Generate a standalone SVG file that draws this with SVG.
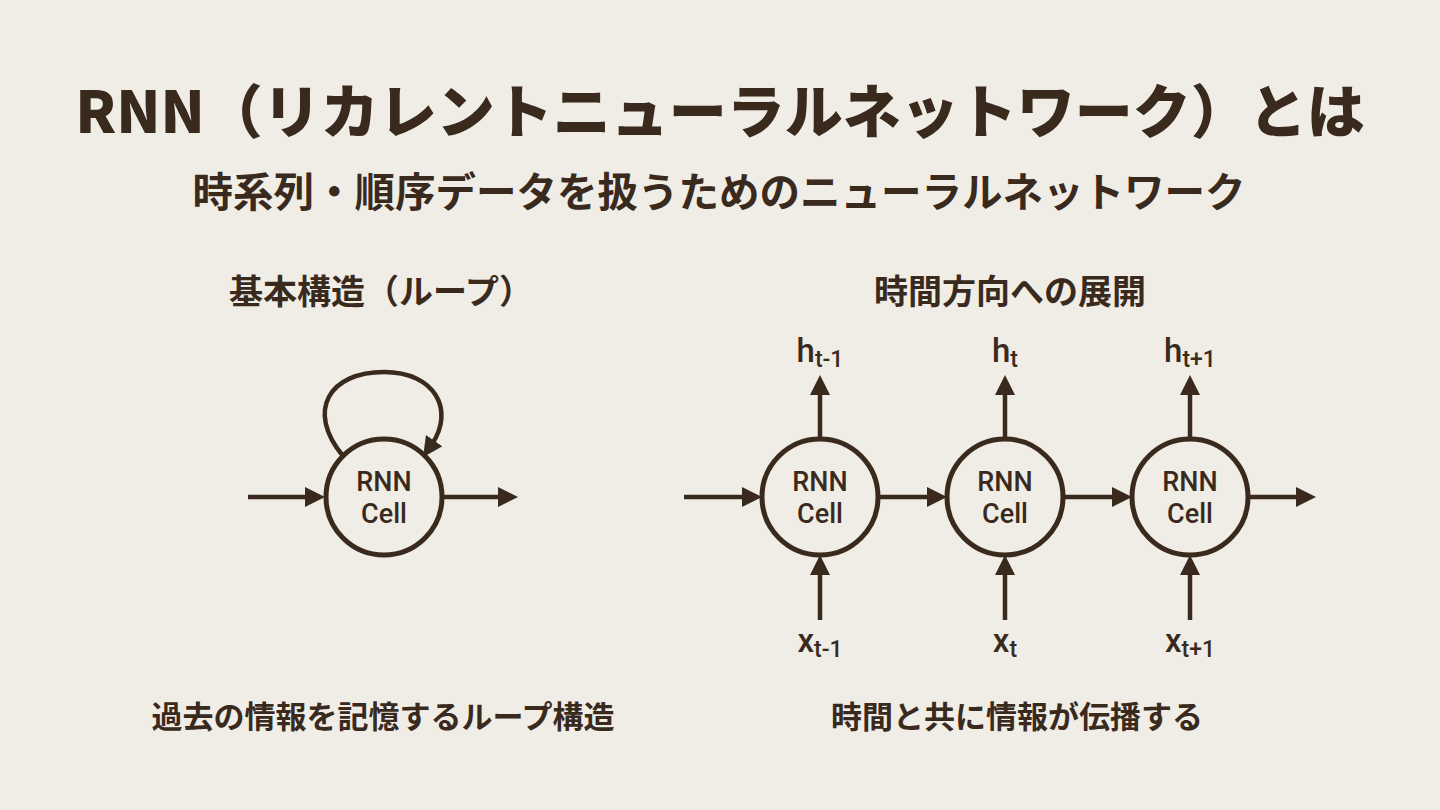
<svg xmlns="http://www.w3.org/2000/svg" width="1440" height="810" viewBox="0 0 1440 810">
<defs>
<style>
.t{font-family:"Noto Sans CJK JP","Noto Sans",sans-serif;fill:#3a2a1d;text-anchor:middle}
.title{font-size:58px;font-weight:900}
.sub{font-size:40.5px;font-weight:700}
.hd{font-size:34px;font-weight:700}
.cap{font-size:31px;font-weight:700}
.cell circle{fill:none;stroke:#3a2a1d;stroke-width:5}
.cell text{font-family:Roboto,"Liberation Sans",Arial,sans-serif;font-weight:500;font-size:27px;fill:#3a2a1d;text-anchor:middle}
.lbl{font-family:Roboto,"Liberation Sans",Arial,sans-serif;font-weight:500;font-size:33px;fill:#3a2a1d;text-anchor:middle}
.lbl tspan.s{font-size:23px}
.conn path,.conn line{stroke:#3a2a1d;stroke-width:4.5;fill:none;marker-end:url(#ah)}
</style>
<marker id="ah" viewBox="0 0 20 20" refX="4" refY="10" markerWidth="20" markerHeight="20" markerUnits="userSpaceOnUse" orient="auto">
<path d="M0,0 L20,10 L0,20 z" fill="#3a2a1d"/>
</marker>
</defs>
<rect width="1440" height="810" fill="#efede5"/>
<text class="t title" x="720" y="133">RNN（リカレントニューラルネットワーク）とは</text>
<text class="t sub" x="719" y="207">時系列・順序データを扱うためのニューラルネットワーク</text>
<text class="t hd" x="381" y="304">基本構造（ループ）</text>
<text class="t hd" x="1010" y="304">時間方向への展開</text>
<text class="t cap" x="383" y="728">過去の情報を記憶するループ構造</text>
<text class="t cap" x="1017" y="728">時間と共に情報が伝播する</text>

<g id="cell-loop" class="cell"><circle cx="384" cy="497" r="58"/><text x="384" y="491">RNN</text><text x="384" y="523">Cell</text></g>
<g id="cell-1" class="cell"><circle cx="820" cy="497" r="58"/><text x="820" y="491">RNN</text><text x="820" y="523">Cell</text></g>
<g id="cell-2" class="cell"><circle cx="1005" cy="497" r="58"/><text x="1005" y="491">RNN</text><text x="1005" y="523">Cell</text></g>
<g id="cell-3" class="cell"><circle cx="1190" cy="497" r="58"/><text x="1190" y="491">RNN</text><text x="1190" y="523">Cell</text></g>

<g id="labels">
<text class="lbl" x="820" y="362">h<tspan class="s" dy="5">t-1</tspan></text>
<text class="lbl" x="1005" y="362">h<tspan class="s" dy="5">t</tspan></text>
<text class="lbl" x="1190" y="362">h<tspan class="s" dy="5">t+1</tspan></text>
<text class="lbl" x="820" y="652">x<tspan class="s" dy="5">t-1</tspan></text>
<text class="lbl" x="1005" y="652">x<tspan class="s" dy="5">t</tspan></text>
<text class="lbl" x="1190" y="652">x<tspan class="s" dy="5">t+1</tspan></text>
</g>

<g id="connectors" class="conn">
<line x1="248" y1="497" x2="309" y2="497"/>
<line x1="442" y1="497" x2="502" y2="497"/>
<path d="M343 456 C305 410 330 372 384 372 C435 372 455 410 432 444"/>
<line x1="684" y1="497" x2="746" y2="497"/>
<line x1="878" y1="497" x2="931" y2="497"/>
<line x1="1063" y1="497" x2="1116" y2="497"/>
<line x1="1248" y1="497" x2="1300" y2="497"/>
<line x1="820" y1="439" x2="820" y2="391"/>
<line x1="1005" y1="439" x2="1005" y2="391"/>
<line x1="1190" y1="439" x2="1190" y2="391"/>
<line x1="820" y1="620" x2="820" y2="571"/>
<line x1="1005" y1="620" x2="1005" y2="571"/>
<line x1="1190" y1="620" x2="1190" y2="571"/>
</g>
</svg>
